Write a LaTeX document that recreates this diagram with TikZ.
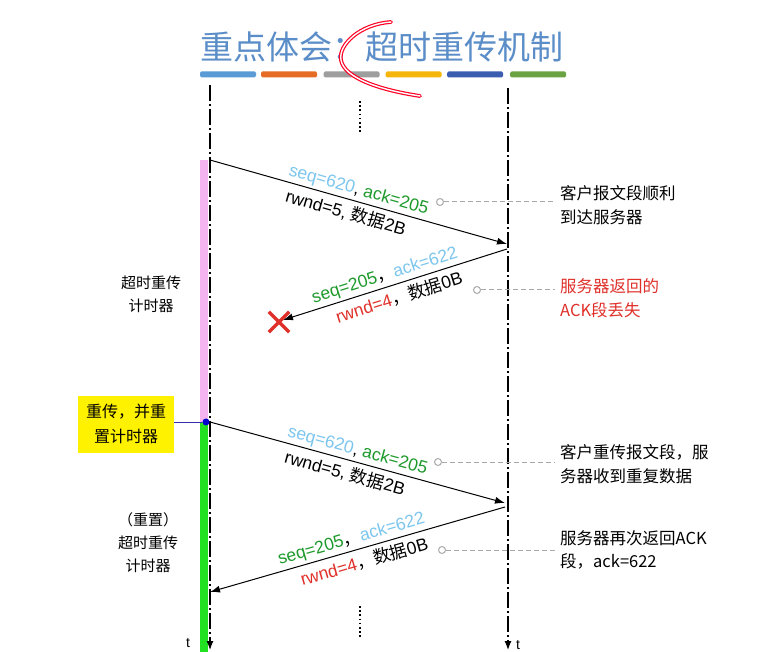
\documentclass[tikz,border=0pt]{standalone}
\usepackage{fontspec}
\setmainfont{Liberation Sans}
\newfontfamily\cjk{Noto Sans CJK SC}
\usetikzlibrary{arrows.meta}
\definecolor{titleblue}{HTML}{5B8EC8}
\definecolor{seqblue}{HTML}{7CC6EE}
\definecolor{ackgreen}{HTML}{1E9A2C}
\definecolor{lossred}{HTML}{E0302A}
\definecolor{timerpink}{HTML}{F4B4F0}
\definecolor{timergreen}{HTML}{22E022}
\definecolor{notegray}{HTML}{AAAAAA}
\definecolor{barA}{HTML}{5B9BD5}
\definecolor{barB}{HTML}{E46C24}
\definecolor{barC}{HTML}{9E9E9E}
\definecolor{barD}{HTML}{F5B50A}
\definecolor{barE}{HTML}{3A5DB0}
\definecolor{barF}{HTML}{6AA342}
\begin{document}
\begin{tikzpicture}[x=1pt,y=-1pt,
  timeline/.style={line width=1.2pt, dash pattern=on 16pt off 3pt on 2pt off 3pt, -{Latex[length=9pt,width=7pt]}},
  msg/.style={line width=1pt, -{Latex[length=10pt,width=7pt]}},
  lbl/.style={font=\fontsize{17.5}{20}\selectfont, inner sep=0.5pt},
  note/.style={draw=notegray, line width=1pt, dash pattern=on 5pt off 3pt},
  dotc/.style={circle, draw=notegray, line width=1pt, fill=white, minimum size=7pt, inner sep=0pt},
  anno/.style={font=\cjk\fontsize{16.5}{23.5}\selectfont, align=left, anchor=west, inner sep=0pt},
  side/.style={font=\cjk\fontsize{15}{23}\selectfont, align=center, inner sep=0pt},
  bar/.style={rounded corners=1.5pt, inner sep=0pt, minimum height=6pt, minimum width=56pt},
  tlab/.style={font=\fontsize{14}{16}\selectfont, inner sep=0pt}
]
\useasboundingbox[fill=white] (0,0) rectangle (782,652);

% title
\node[font=\cjk\fontsize{33}{36}\selectfont, text=titleblue, inner sep=0pt] (title) at (382,47) {重点体会：超时重传机制};
\node[bar, fill=barA] (b1) at (228,74.5) {};
\node[bar, fill=barB] (b2) at (289,74.5) {};
\node[bar, fill=barC] (b3) at (351.5,74.5) {};
\node[bar, fill=barD] (b4) at (413.5,74.5) {};
\node[bar, fill=barE] (b5) at (475,74.5) {};
\node[bar, fill=barF] (b6) at (538,74.5) {};

% timer bars
\fill[timerpink] (200,160) rectangle (208,422);
\fill[timergreen] (200,422) rectangle (208,652);

% timelines
\coordinate (Ltop) at (210,85);
\coordinate (Lbot) at (210,650);
\coordinate (Rtop) at (508,88);
\coordinate (Rbot) at (508,650);
\draw[timeline] (Ltop) -- (Lbot);
\draw[timeline] (Rtop) -- (Rbot);
\node[tlab] (tL) at (188,643) {t};
\node[tlab] (tR) at (518,645) {t};

% ellipsis dots
\coordinate (dt1) at (360,101);
\coordinate (dt2) at (360,133);
\coordinate (db1) at (360,606);
\coordinate (db2) at (360,638);
\draw[line width=1.6pt, dash pattern=on 1.6pt off 2.6pt] (dt1) -- (dt2);
\draw[line width=1.6pt, dash pattern=on 1.6pt off 2.6pt] (db1) -- (db2);

% message endpoints
\coordinate (c1s) at (210,160);
\coordinate (c1e) at (507,244);
\coordinate (s2s) at (507,249);
\coordinate (s2e) at (283,320);
\coordinate (c3s) at (210,422);
\coordinate (c3e) at (505,503);
\coordinate (s4s) at (505,507);
\coordinate (s4e) at (210,592);

\draw[msg] (c1s) -- (c1e)
  node[pos=0.49, sloped, above=2pt, lbl] {\textcolor{seqblue}{seq=620}, \textcolor{ackgreen}{ack=205}}
  node[pos=0.47, sloped, below=4pt, lbl] {rwnd=5, {\cjk 数据}2B};
\draw[msg] (s2s) -- (s2e)
  node[pos=0.53, sloped, above=2pt, lbl] {\textcolor{ackgreen}{seq=205}{\cjk ，}\textcolor{seqblue}{ack=622}}
  node[pos=0.50, sloped, below=4pt, lbl] {\textcolor{lossred}{rwnd=4}{\cjk ，数据}0B};
\draw[msg] (c3s) -- (c3e)
  node[pos=0.49, sloped, above=2pt, lbl] {\textcolor{seqblue}{seq=620}, \textcolor{ackgreen}{ack=205}}
  node[pos=0.47, sloped, below=4pt, lbl] {rwnd=5, {\cjk 数据}2B};
\draw[msg] (s4s) -- (s4e)
  node[pos=0.51, sloped, above=2pt, lbl] {\textcolor{ackgreen}{seq=205}{\cjk ，}\textcolor{seqblue}{ack=622}}
  node[pos=0.49, sloped, below=4pt, lbl] {\textcolor{lossred}{rwnd=4}{\cjk ，数据}0B};

% loss mark
\node[inner sep=0pt, minimum size=20pt] (lost) at (279,322) {};
\draw[lossred, line width=3.2pt] (lost.north west) -- (lost.south east);
\draw[lossred, line width=3.2pt] (lost.south west) -- (lost.north east);

% annotations
\node[anno] (a1) at (560,205) {客户报文段顺利\\到达服务器};
\node[anno, text=lossred] (a2) at (560,298) {服务器返回的\\ACK段丢失};
\node[anno] (a3) at (560,464) {客户重传报文段，服\\务器收到重复数据};
\node[anno] (a4) at (560,550) {服务器再次返回ACK\\段，ack=622};
\node[dotc] (d1) at (440,202) {};
\node[dotc] (d2) at (477,290) {};
\node[dotc] (d3) at (438,462) {};
\node[dotc] (d4) at (442,550) {};
\draw[note] (d1.east) -- ([xshift=-5pt]d1 -| a1.west);
\draw[note] (d2.east) -- ([xshift=-5pt]d2 -| a2.west);
\draw[note] (d3.east) -- ([xshift=-5pt]d3 -| a3.west);
\draw[note] (d4.east) -- ([xshift=-5pt]d4 -| a4.west);

% left labels
\node[side] (timer1) at (151,294) {超时重传\\计时器};
\node[side] (timer2) at (148,543) {（重置）\\超时重传\\计时器};
\node[fill=yellow, minimum width=96pt, minimum height=57pt, inner sep=0pt, align=center, font=\cjk\fontsize{16}{25}\selectfont] (reset) at (126,424) {重传，并重\\置计时器};
\node[circle, fill=blue!80!black, inner sep=0pt, minimum size=7pt] (rdot) at (206,422) {};
\draw[blue!60!black!80, line width=1pt] (reset.east |- rdot) -- (rdot);

% red hand-drawn stroke
\draw[red!85!magenta, line width=1.2pt, double=white, double distance=1.4pt, line cap=round]
  (391,22) .. controls (360,24) and (338,45) .. (341,60)
  .. controls (344,78) and (380,90) .. (420,96);
\end{tikzpicture}
\end{document}
